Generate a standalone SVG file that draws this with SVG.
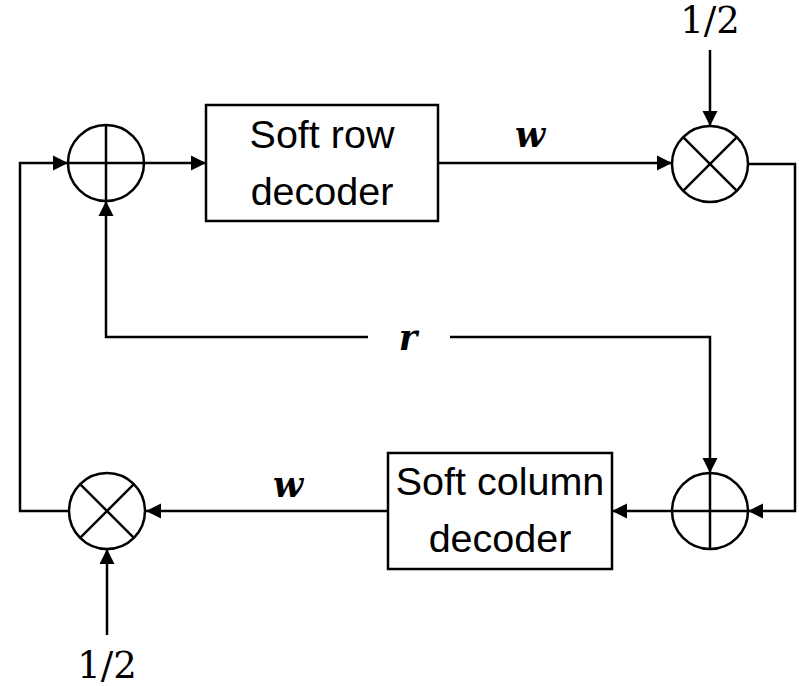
<svg xmlns="http://www.w3.org/2000/svg" width="799" height="686" viewBox="0 0 799 686">
<style>
.n{fill:#fff;stroke:#000;stroke-width:2.5}
.s{stroke:#000;stroke-width:2.5;fill:none}
.c{fill:none;stroke:#000;stroke-width:2.5}
.t{font-family:"Liberation Sans",Arial,sans-serif;font-size:39.5px;fill:#000;text-anchor:middle}
.m{font-family:"DejaVu Serif","Liberation Serif",serif;font-size:37px;fill:#000;text-anchor:middle}
.b{font-family:"DejaVu Serif","Liberation Serif",serif;font-size:35px;font-weight:bold;font-style:italic;fill:#000;text-anchor:middle}
</style>
<defs>
<marker id="a" markerUnits="userSpaceOnUse" markerWidth="16" markerHeight="16" viewBox="0 0 16 16" refX="15" refY="8" orient="auto">
<path d="M0,0.5 L15,8 L0,15.5 Z" fill="#000"/>
</marker>
</defs>
<rect width="799" height="686" fill="#fff"/>
<g id="connectors" class="c">
<path d="M69,511 H20 V163 H68" marker-end="url(#a)"/>
<path d="M144,163 H206" marker-end="url(#a)"/>
<path d="M438,163 H672" marker-end="url(#a)"/>
<path d="M710,50 V126" marker-end="url(#a)"/>
<path d="M748,164 H795 V511 H748" marker-end="url(#a)"/>
<path d="M368,337 H106 V201" marker-end="url(#a)"/>
<path d="M450,337 H710 V473" marker-end="url(#a)"/>
<path d="M672,511 H612" marker-end="url(#a)"/>
<path d="M388,511 H146" marker-end="url(#a)"/>
<path d="M107,635 V549" marker-end="url(#a)"/>
</g>
<g id="adder-top">
<circle class="n" cx="106" cy="163" r="38"/>
<path class="s" d="M68,163 H144 M106,125 V201"/>
</g>
<g id="row-decoder">
<rect class="n" x="206" y="105" width="232" height="116"/>
<text class="t" x="322" y="148">Soft row</text>
<text class="t" x="322" y="205">decoder</text>
</g>
<g id="mult-top">
<circle class="n" cx="710" cy="164" r="38"/>
<path class="s" d="M683.1,137.1 L736.9,190.9 M736.9,137.1 L683.1,190.9"/>
</g>
<g id="adder-bottom">
<circle class="n" cx="710" cy="511" r="38"/>
<path class="s" d="M672,511 H748 M710,473 V549"/>
</g>
<g id="column-decoder">
<rect class="n" x="388" y="453" width="224" height="116"/>
<text class="t" x="500" y="495">Soft column</text>
<text class="t" x="500" y="552">decoder</text>
</g>
<g id="mult-bottom">
<circle class="n" cx="107" cy="511" r="38"/>
<path class="s" d="M80.1,484.1 L133.9,537.9 M133.9,484.1 L80.1,537.9"/>
</g>
<g id="labels">
<text class="m" x="710" y="33">1/2</text>
<text class="m" x="107" y="678">1/2</text>
<text class="b" x="530" y="147">w</text>
<text class="b" x="288" y="497">w</text>
<text class="b" x="408" y="350">r</text>
</g>
</svg>
